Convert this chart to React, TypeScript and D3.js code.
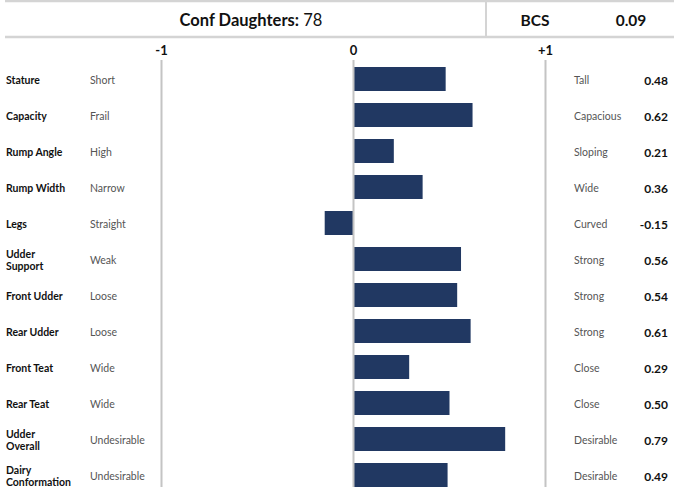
import React from "react";
import * as d3 from "d3";

const traits = ["Stature", "Capacity", "Rump Angle", "Rump Width", "Legs", "Udder Support", "Front Udder", "Rear Udder", "Front Teat", "Rear Teat", "Udder Overall", "Dairy Conformation"];
const traitLines = [["Stature"], ["Capacity"], ["Rump Angle"], ["Rump Width"], ["Legs"], ["Udder", "Support"], ["Front Udder"], ["Rear Udder"], ["Front Teat"], ["Rear Teat"], ["Udder", "Overall"], ["Dairy", "Conformation"]];
const lowLabels = ["Short", "Frail", "High", "Narrow", "Straight", "Weak", "Loose", "Loose", "Wide", "Wide", "Undesirable", "Undesirable"];
const highLabels = ["Tall", "Capacious", "Sloping", "Wide", "Curved", "Strong", "Strong", "Strong", "Close", "Close", "Desirable", "Desirable"];
const values = [0.48, 0.62, 0.21, 0.36, -0.15, 0.56, 0.54, 0.61, 0.29, 0.5, 0.79, 0.49];
const tickValues = [-1, 0, 1];
const tickLabels = ["-1", "0", "+1"];
const confDaughters = 78;
const bcs = 0.09;

const W = 674;
const H = 487;
const FONT = "Lato, 'Open Sans', Arial, sans-serif";

export default function App() {
  const x = d3.scaleLinear().domain([-1, 1]).range([161.5, 545.5]);
  const y = d3.scaleBand<string>().domain(traits).range([61, 61 + 36 * traits.length]).paddingInner(1 / 3).paddingOuter(1 / 6);
  const bw = y.bandwidth();
  return (
    <svg width={W} height={H} style={{ position: "absolute", left: 0, top: 0, display: "block" }} fontFamily={FONT}>
      <rect width={W} height={H} fill="#fff" />
      {/* header */}
      <line x1={5} x2={W} y1={1} y2={1} stroke="#d4d4d4" strokeWidth={2.5} />
      <line x1={5} x2={W} y1={37} y2={37} stroke="#d4d4d4" strokeWidth={2.5} />
      <line x1={486} x2={486} y1={1} y2={37} stroke="#d4d4d4" strokeWidth={2} />
      <text x={251} y={19.5} textAnchor="middle" dominantBaseline="central" fontSize={16.5} fill="#111">
        <tspan fontWeight="bold">Conf Daughters:</tspan>
        <tspan> {confDaughters}</tspan>
      </text>
      <text x={535} y={19.5} textAnchor="middle" dominantBaseline="central" fontSize={15.5} fontWeight="bold" fill="#111">BCS</text>
      <text x={631} y={19.5} textAnchor="middle" dominantBaseline="central" fontSize={15.5} fontWeight="bold" fill="#111">{bcs.toFixed(2)}</text>
      {/* bars */}
      {traits.map((t, i) => {
        const v = values[i];
        return (
          <rect key={t} x={Math.min(x(0), x(v))} width={Math.abs(x(v) - x(0))} y={y(t)} height={bw} fill="#213862" />
        );
      })}
      {/* axis lines and ticks */}
      {tickValues.map((tv, i) => (
        <g key={tv}>
          <line x1={x(tv)} x2={x(tv)} y1={60} y2={H} stroke="#c4c4c4" strokeWidth={2} />
          <text x={x(tv)} y={49.5} textAnchor="middle" dominantBaseline="central" fontSize={13} fontWeight="bold" fill="#111">{tickLabels[i]}</text>
        </g>
      ))}
      {/* labels */}
      {traits.map((t, i) => {
        const cy = (y(t) as number) + bw / 2;
        const lines = traitLines[i];
        return (
          <g key={t + "lab"}>
            {lines.map((ln, j) => (
              <text key={j} x={6} y={cy + 1 + (j - (lines.length - 1) / 2) * 12.5} dominantBaseline="central" fontSize={10.5} fontWeight="bold" fill="#111">{ln}</text>
            ))}
            <text x={90} y={cy + 1} dominantBaseline="central" fontSize={10.5} fill="#555">{lowLabels[i]}</text>
            <text x={574} y={cy + 1} dominantBaseline="central" fontSize={10.5} fill="#555">{highLabels[i]}</text>
            <text x={668} y={cy + 1} textAnchor="end" dominantBaseline="central" fontSize={12} fontWeight="bold" fill="#111">{values[i].toFixed(2)}</text>
          </g>
        );
      })}
    </svg>
  );
}
